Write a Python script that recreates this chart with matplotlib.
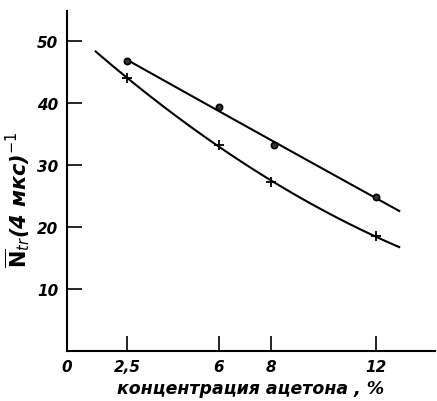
import numpy as np
import matplotlib
matplotlib.use("Agg")
import matplotlib.pyplot as plt

# Data
conc_circles = [2.5, 6.0, 8.1, 12.0]
n_circles = [46.8, 39.3, 33.2, 24.8]
conc_crosses = [2.5, 6.0, 8.0, 12.0]
n_crosses = [44.0, 33.2, 27.3, 18.5]
x_tick_vals = [2.5, 6, 8, 12]
x_tick_labels = ["2,5", "6", "8", "12"]
y_tick_vals = [10, 20, 30, 40, 50]

plt.rcParams['font.family'] = ['DejaVu Sans']
plt.rcParams['mathtext.fontset'] = 'dejavusans'

fig = plt.figure(figsize=(4.37, 4.02), dpi=100)
ax = fig.add_axes([0.153, 0.124, 0.842, 0.846])

xmin, xmax = 0.2, 14.26
ax.set_xlim(xmin, xmax)
ax.set_ylim(0, 54.8)

# fitted curves
p_up = np.polyfit(conc_circles, n_circles, 2)
xu = np.linspace(2.5, 12.9, 100)
ax.plot(xu, np.polyval(p_up, xu), color='black', lw=1.5)
p_lo = np.polyfit(conc_crosses, n_crosses, 2)
xl = np.linspace(1.3, 12.9, 100)
ax.plot(xl, np.polyval(p_lo, xl), color='black', lw=1.5)

ax.plot(conc_circles, n_circles, 'o', ms=4.5, mfc='#333333', mec='black', mew=1.2)
ax.plot(conc_crosses, n_crosses, '+', ms=7, color='black', mew=1.3)

for s in ['top', 'right']:
    ax.spines[s].set_visible(False)
for s in ['left', 'bottom']:
    ax.spines[s].set_linewidth(1.5)

ax.set_xticks([xmin] + x_tick_vals)
ax.set_xticklabels(["0"] + x_tick_labels)
ax.set_yticks(y_tick_vals)
ax.set_yticklabels([str(v) for v in y_tick_vals])
ax.tick_params(direction='in', length=11, width=1.2, labelsize=11, pad=6)
ax.get_xticklines()[0].set_visible(False)
ax.get_xticklines()[1].set_visible(False)
for lab in ax.get_xticklabels() + ax.get_yticklabels():
    lab.set_fontstyle('italic')
    lab.set_fontweight('bold')

ax.set_xlabel("концентрация ацетона , %", fontsize=12.5, fontstyle='italic',
              fontweight='bold', labelpad=3)
ax.set_ylabel(r"$\overline{\mathbf{N}}_{tr}$(4 мкс)$^{-1}$", fontsize=15,
              fontstyle='italic', fontweight='bold')
ax.yaxis.set_label_coords(-0.095, 0.45)

fig.savefig("out.png", dpi=100)
